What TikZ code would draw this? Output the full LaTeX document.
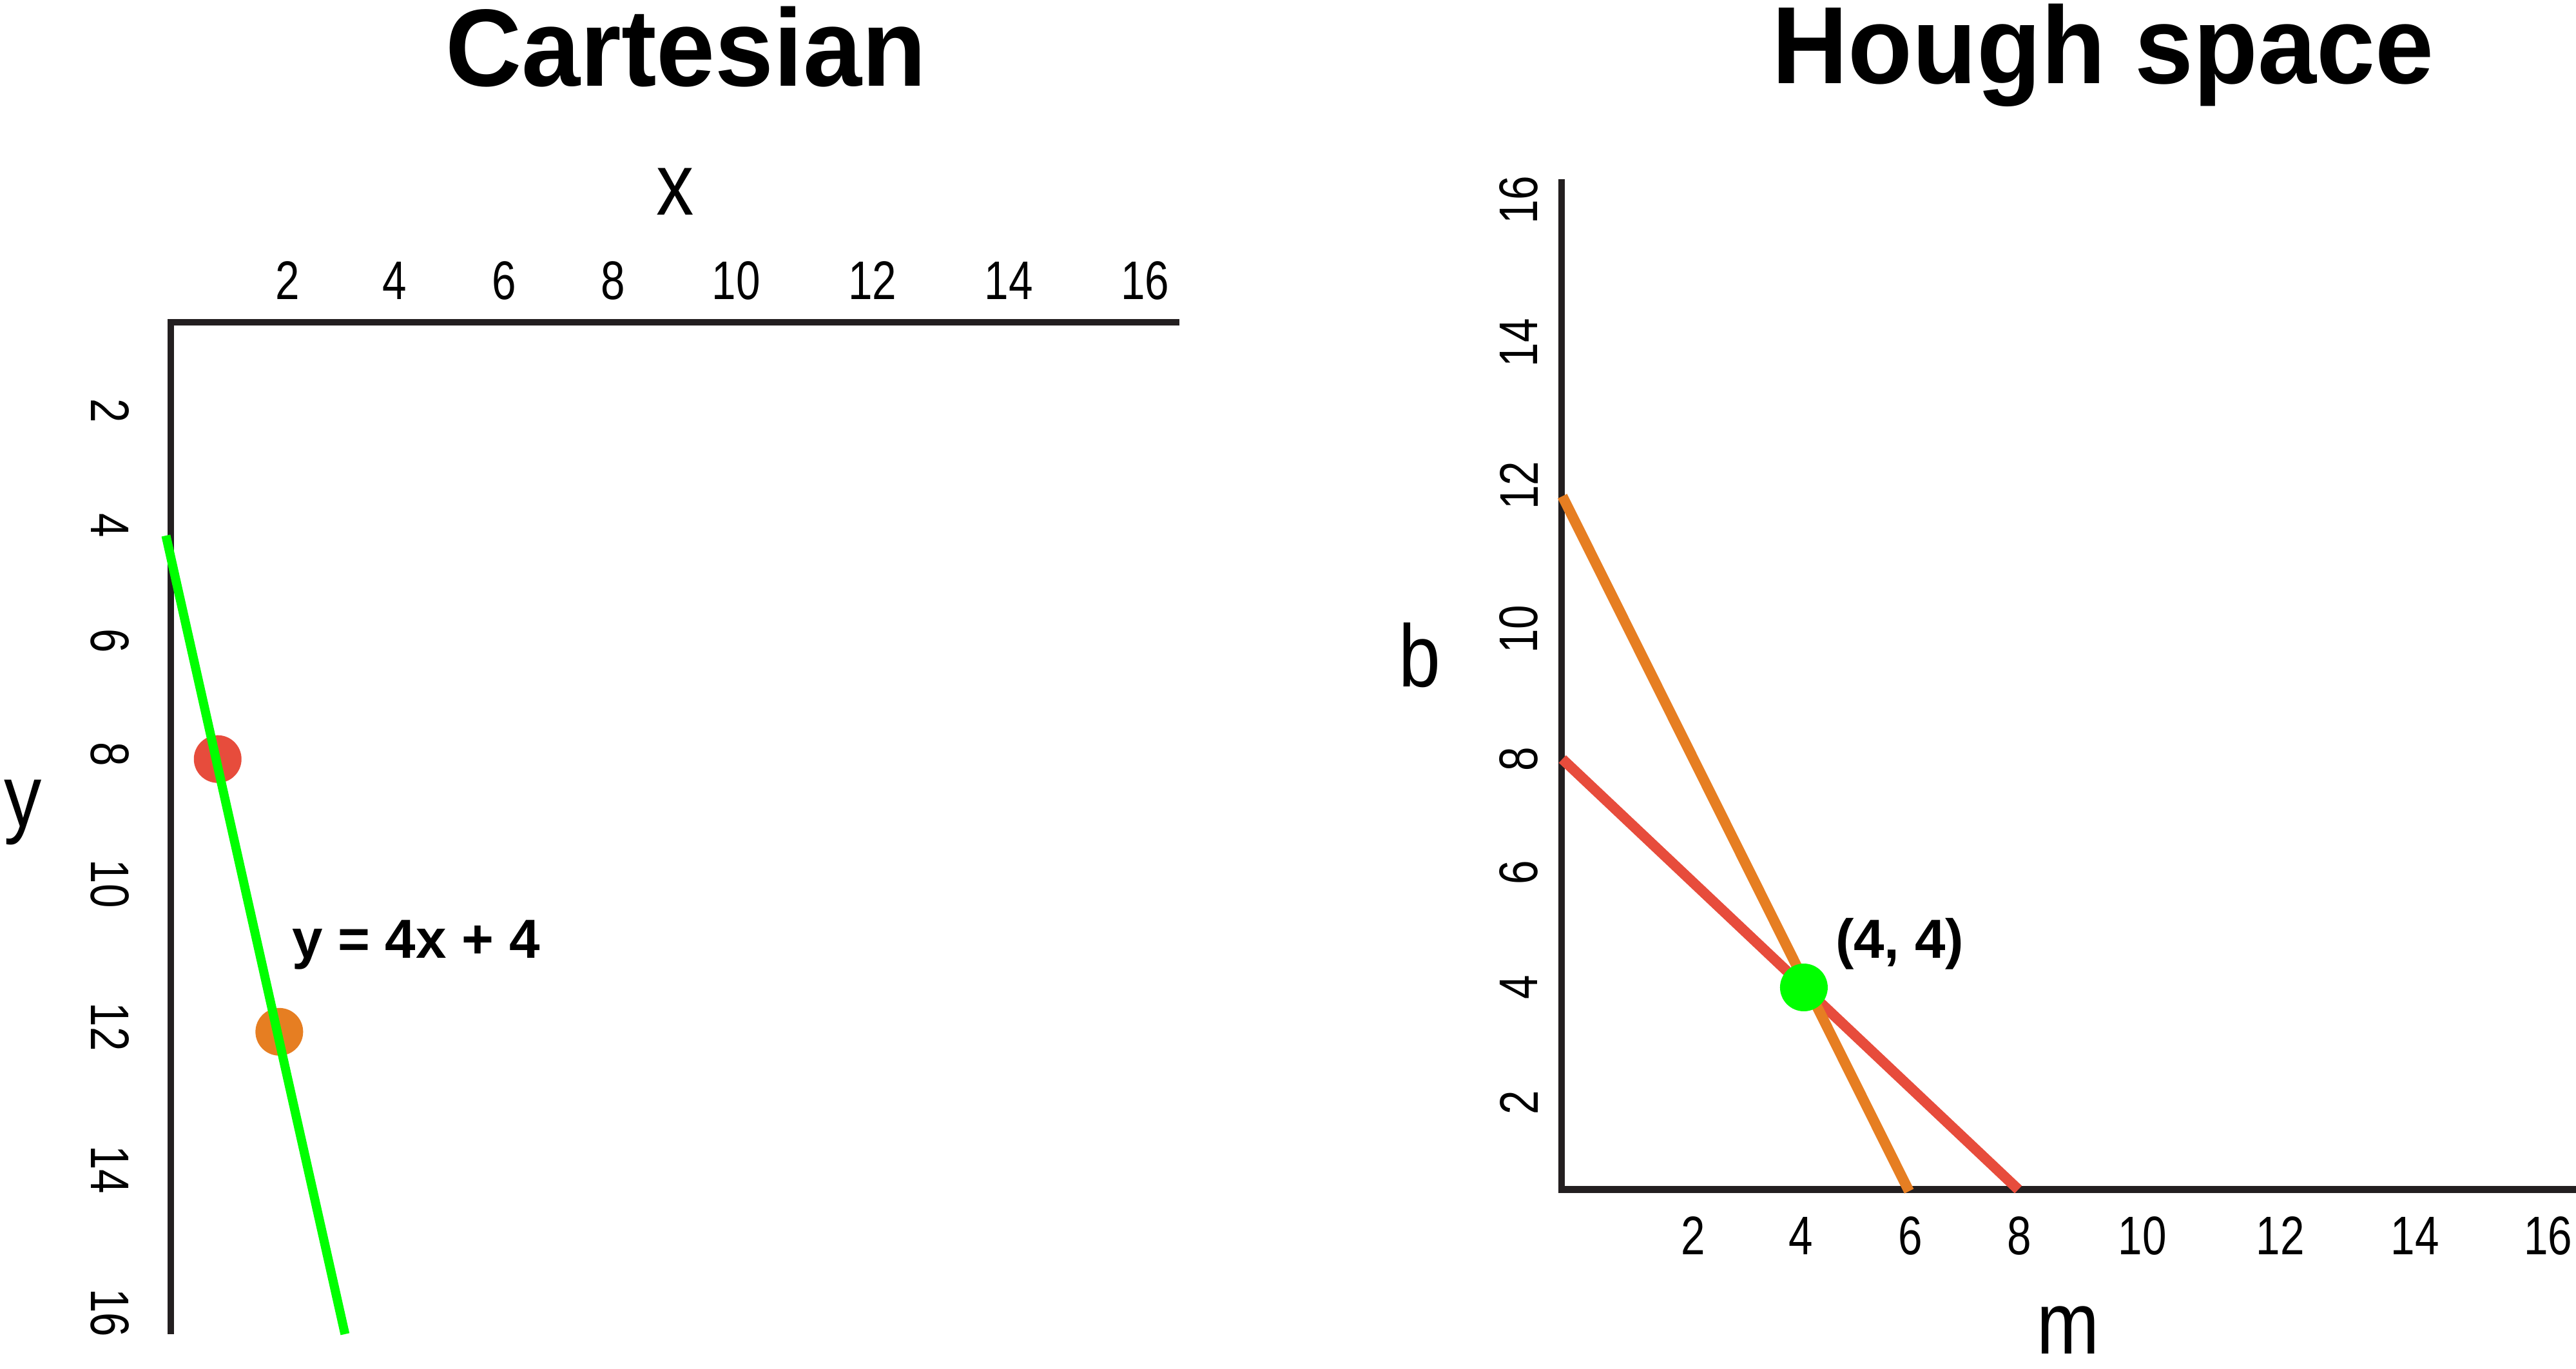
\documentclass[tikz,border=0pt]{standalone}
\usepackage{fontspec}
\setmainfont{Liberation Sans}
\newfontfamily\tickfont[FakeStretch=0.8]{Liberation Sans}
\newfontfamily\axisfont[FakeStretch=0.85]{Liberation Sans}
\newfontfamily\titlefont[FakeStretch=0.96]{Liberation Sans}
\usepackage{tikz}

\definecolor{axisgray}{RGB}{35,31,32}
\definecolor{ptred}{RGB}{231,76,60}
\definecolor{ptorange}{RGB}{230,126,34}
\definecolor{ptgreen}{RGB}{0,255,0}

\begin{document}
\begin{tikzpicture}[x=0.0255cm, y=-0.0255cm,
  axis/.style={draw=axisgray, line width=2.9pt, line join=miter},
  tick/.style={font=\tickfont\fontsize{24}{24}\selectfont, inner sep=0pt},
  axislabel/.style={font=\axisfont\fontsize{39}{39}\selectfont, inner sep=0pt, anchor=base},
  panel title/.style={font=\titlefont\bfseries\fontsize{48.5}{48.5}\selectfont, inner sep=0pt, anchor=base},
  note/.style={font=\bfseries\fontsize{24.3}{24.3}\selectfont, inner sep=0pt, anchor=base west},
  dot/.style={circle, inner sep=0pt, minimum size=0.74cm},
  houghline/.style={line width=4.6pt}]
  \useasboundingbox (0,0) rectangle (1568,833);

  % Cartesian
  \node[panel title] (ttlcart) at (417.5,52.5) {Cartesian};
  \node[axislabel] (xlabel) at (411,130.7) {x};
  \node[axislabel] (ylabel) at (14,503) {y};
  \coordinate (corner) at (104,196);
  \coordinate (cxend) at (718,196);
  \coordinate (cyend) at (104,812);
  \draw[axis] (cyend) -- (corner) -- (cxend);
  \foreach \v/\px in {2/175,4/240,6/307,8/373,10/448,12/531,14/614,16/697}
    \node[tick, anchor=base] (cx\v) at (\px,182.3) {\v};
  \foreach \v/\py in {2/250,4/320,6/390,8/459,10/538,12/625,14/712,16/799}
    \node[tick, rotate=-90] (cy\v) at (67,\py) {\v};
  \node[dot, fill=ptred] (redpt) at (132.5,462) {};
  \node[dot, fill=ptorange] (orangept) at (170,628) {};
  \coordinate (gtop) at (101,326);
  \coordinate (gbot) at (210,812);
  \draw[ptgreen, line width=4pt] (gtop) -- (gbot);
  \node[note] (eqlabel) at (177.5,583.2) {y = 4x + 4};

  % Hough space
  \node[panel title] (ttlhough) at (1280,51) {Hough space};
  \node[axislabel] (blabel) at (864,418) {b};
  \node[axislabel] (mlabel) at (1259,824) {m};
  \coordinate (hcorner) at (950.5,724);
  \coordinate (hyend) at (950.5,109);
  \coordinate (hxend) at (1568,724);
  \draw[axis] (hyend) -- (hcorner) -- (hxend);
  \foreach \v/\px in {2/1030.5,4/1096,6/1163,8/1229,10/1304,12/1388,14/1470,16/1551}
    \node[tick, anchor=base] (hx\v) at (\px,763.5) {\v};
  \foreach \v/\py in {2/671,4/601,6/531,8/462,10/383,12/295.5,14/208.6,16/121.7}
    \node[tick, rotate=90] (hy\v) at (924.5,\py) {\v};
  \coordinate (rtop) at (951,462);
  \coordinate (rbot) at (1228.5,724);
  \coordinate (otop) at (951,302);
  \coordinate (obot) at (1162,725);
  \draw[houghline, ptred] (rtop) -- (rbot);
  \draw[houghline, ptorange] (otop) -- (obot);
  \node[dot, fill=ptgreen] (crosspt) at (1098,601) {};
  \node[note] (ptlabel) at (1117,583.2) {(4, 4)};
\end{tikzpicture}
\end{document}
